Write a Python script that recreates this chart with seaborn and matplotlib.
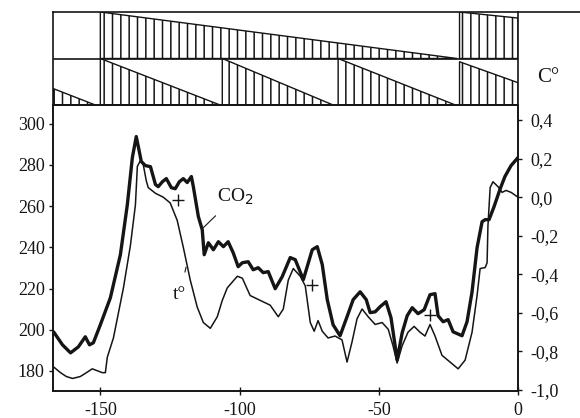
import matplotlib
matplotlib.use("Agg")
import matplotlib.pyplot as plt
from matplotlib.lines import Line2D
import numpy as np
import pandas as pd
import seaborn as sns

# thousand years before present
co2_time = [-166.8, -163.6, -160.7, -157.9, -155.4, -153.9, -152.5, -150.0, -146.4, -142.8,
            -140.3, -138.5, -137.1, -136.0, -135.3, -133.8, -132.0, -130.2, -129.2, -127.7,
            -126.3, -124.5, -123.1, -121.6, -120.2, -118.8, -117.3, -116.6, -114.8, -113.4,
            -112.7, -111.2, -109.4, -107.6, -105.8, -104.1, -102.3, -100.5, -99.0, -96.9,
            -95.1, -93.3, -91.5, -89.7, -87.2, -84.7, -81.8, -80.0, -77.1, -73.9,
            -72.1, -70.3, -68.5, -66.4, -63.9, -61.4, -59.2, -56.7, -54.5, -53.1,
            -51.3, -49.5, -47.4, -45.6, -43.4, -41.6, -39.8, -38.0, -35.9, -33.7,
            -31.6, -29.8, -28.7, -26.9, -25.1, -23.3, -20.1, -18.3, -16.5, -14.7,
            -12.9, -11.8, -10.4, -8.6, -6.5, -4.7, -2.5, 0.0]
co2_ppm = [199.0, 192.7, 188.8, 191.7, 196.6, 192.7, 193.7, 202.4, 215.5, 236.4,
           260.7, 283.5, 293.7, 286.4, 281.6, 279.6, 279.1, 270.4, 269.4, 271.8,
           273.3, 268.9, 268.4, 271.8, 273.3, 271.4, 274.3, 269.4, 254.9, 248.5,
           236.4, 242.2, 238.8, 242.7, 240.3, 242.7, 237.4, 230.6, 232.5, 233.0,
           229.1, 230.1, 227.7, 228.2, 219.9, 225.7, 235.0, 234.0, 224.3, 238.8,
           240.3, 231.6, 214.6, 202.4, 197.1, 206.3, 214.6, 218.4, 214.6, 208.3,
           208.7, 211.2, 213.6, 205.8, 185.4, 198.5, 206.8, 210.7, 207.8, 209.7,
           217.0, 217.5, 206.8, 203.9, 204.9, 199.0, 197.1, 203.9, 218.4, 239.8,
           252.4, 253.4, 253.4, 259.7, 268.0, 274.3, 279.6, 283.5]

temp_time = [-166.8, -164.3, -162.2, -160.0, -157.2, -155.0, -152.9, -151.1, -149.3, -148.2,
             -147.5, -145.3, -143.5, -141.7, -139.2, -137.4, -136.7, -135.6, -134.6, -133.5,
             -132.8, -130.2, -127.4, -124.9, -122.4, -120.2, -117.7, -115.2, -113.0, -110.5,
             -108.0, -106.2, -104.4, -100.8, -99.0, -96.2, -92.6, -89.0, -86.1, -84.3,
             -82.5, -80.7, -78.2, -76.4, -74.6, -73.2, -71.8, -70.3, -68.2, -65.7,
             -63.2, -61.4, -59.6, -57.8, -56.0, -53.8, -51.3, -48.8, -46.6, -44.9,
             -43.4, -41.6, -39.5, -37.3, -35.2, -33.4, -31.6, -29.8, -27.3, -24.4,
             -21.5, -19.0, -16.5, -14.7, -13.6, -11.8, -11.1, -10.8, -10.0, -9.0,
             -7.2, -5.7, -4.3, -2.5, 0.0]
temp_c = [-0.88, -0.91, -0.93, -0.94, -0.93, -0.91, -0.89, -0.90, -0.91, -0.91,
          -0.83, -0.73, -0.60, -0.47, -0.25, -0.04, 0.16, 0.19, 0.17, 0.085,
          0.05, 0.02, 0.00, -0.03, -0.12, -0.26, -0.43, -0.57, -0.65, -0.68,
          -0.62, -0.535, -0.47, -0.41, -0.42, -0.51, -0.535, -0.56, -0.62, -0.58,
          -0.43, -0.37, -0.41, -0.46, -0.65, -0.695, -0.64, -0.695, -0.73, -0.72,
          -0.74, -0.855, -0.75, -0.63, -0.58, -0.62, -0.66, -0.65, -0.685, -0.77,
          -0.86, -0.77, -0.70, -0.67, -0.70, -0.72, -0.66, -0.72, -0.82, -0.855,
          -0.89, -0.845, -0.70, -0.51, -0.37, -0.365, -0.34, -0.15, 0.05, 0.08,
          0.055, 0.025, 0.035, 0.025, 0.00]

# "+" marks on the curves
plus_time = [-122.0, -73.9, -31.6]
plus_co2 = [263.1, 221.8, 207.3]

# hatched sawtooth bands above the plot
upper_start = [-150.0, -21.0]
upper_end = [-21.9, 0.0]
upper_h0 = [1.0, 1.0]
upper_h1 = [0.0, 0.87]
lower_start = [-166.8, -150.0, -106.2, -64.6, -21.0]
lower_end = [-151.8, -107.0, -66.4, -22.5, 0.0]
lower_h0 = [0.35, 1.0, 1.0, 1.0, 0.93]
lower_h1 = [0.0, 0.0, 0.0, 0.0, 0.48]

co2_ticks = [180, 200, 220, 240, 260, 280, 300]
temp_ticks = [0.4, 0.2, 0.0, -0.2, -0.4, -0.6, -0.8, -1.0]
temp_labels = ["0,4", "0,2", "0,0", "-0,2", "-0,4", "-0,6", "-0,8", "-1,0"]
x_ticks = [-150, -100, -50, 0]

sns.set_style("white")
plt.rcParams['font.family'] = ['Liberation Serif', 'DejaVu Serif']
plt.rcParams['hatch.linewidth'] = 1.1
ink = '#151515'

W, H = 580, 418
fig = plt.figure(figsize=(5.8, 4.18), dpi=100)
ax = fig.add_axes([53 / W, 1 - 391 / H, 465 / W, 286 / H])
ax_top = fig.add_axes([53 / W, 1 - 105 / H, 465 / W, 93 / H], sharex=ax)

co2_df = pd.DataFrame({'kyr': co2_time, 'co2': co2_ppm})
temp_df = pd.DataFrame({'kyr': temp_time, 'temp': temp_c})

sns.lineplot(data=co2_df, x='kyr', y='co2', ax=ax, color=ink, linewidth=2.4,
             estimator=None, sort=False)
ax.plot(plus_time, plus_co2, linestyle='none', marker='+', markersize=8,
        markeredgewidth=1.0, color=ink)

ax2 = ax.twinx()
sns.lineplot(data=temp_df, x='kyr', y='temp', ax=ax2, color=ink, linewidth=1.1,
             estimator=None, sort=False)

ax.set_xlim(-167, 0)
ax.set_ylim(170.3, 309)
ax2.set_ylim(-1.005, 0.478)
for a in (ax, ax2):
    a.set_xlabel('')
    a.set_ylabel('')
    for s in a.spines.values():
        s.set_color(ink)
        s.set_linewidth(1.2)

ax.set_xticks(x_ticks)
ax.set_xticklabels([str(v) for v in x_ticks])
ax.set_yticks(co2_ticks)
ax2.set_yticks(temp_ticks)
ax2.set_yticklabels(temp_labels)
ax.tick_params(axis='both', bottom=True, left=True, direction='out', length=3,
               width=1, colors=ink, labelsize=13)
ax.tick_params(axis='x', direction='inout', length=6, pad=5)
ax.tick_params(axis='y', pad=3)
ax2.tick_params(axis='y', right=True, direction='out', length=3, width=1,
                colors=ink, labelsize=13, pad=6)

ax.annotate('CO$_2$', xy=(-113.0, 249.5), xytext=(-101.5, 264.6), fontsize=14,
            ha='center', va='center', color=ink,
            arrowprops=dict(arrowstyle='-', color=ink, lw=0.8, shrinkA=6, shrinkB=0))
ax.annotate('t°', xy=(-119.1, 231.0), xytext=(-121.5, 217.0), fontsize=14,
            ha='center', va='center', color=ink,
            arrowprops=dict(arrowstyle='-', color=ink, lw=0.8, shrinkA=8, shrinkB=1))

# band panel
for t0, t1, h0, h1 in zip(upper_start, upper_end, upper_h0, upper_h1):
    ax_top.fill_between([t0, t1], [1 + h0, 1 + h1], 1, facecolor='white',
                        edgecolor=ink, hatch='||', linewidth=1.0)
for t0, t1, h0, h1 in zip(lower_start, lower_end, lower_h0, lower_h1):
    ax_top.fill_between([t0, t1], [h0, h1], 0, facecolor='white',
                        edgecolor=ink, hatch='||', linewidth=1.0)
ax_top.axhline(1, color=ink, linewidth=1.2)
ax_top.set_ylim(0, 2)
ax_top.set_yticks([])
ax_top.tick_params(axis='x', bottom=False, labelbottom=False)
for s in ax_top.spines.values():
    s.set_color(ink)
    s.set_linewidth(1.2)

fig.add_artist(Line2D([518 / W, 1.0], [1 - 12 / H, 1 - 12 / H], color=ink, linewidth=1.2))
fig.text(548 / W, 1 - 78 / H, 'C°', fontsize=15, ha='center', va='center', color=ink)

fig.savefig('out.png', dpi=100, facecolor='white')
